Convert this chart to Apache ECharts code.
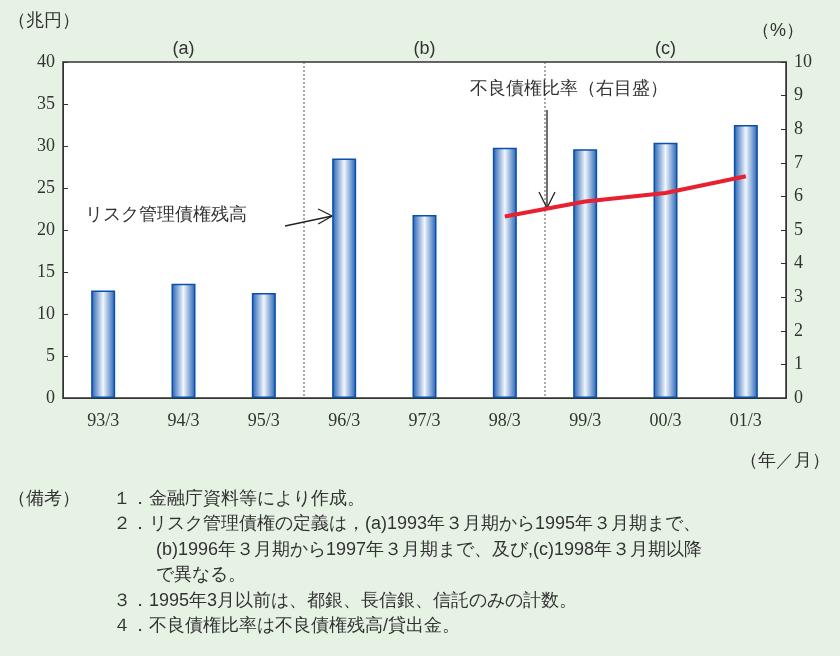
<!DOCTYPE html>
<html>
<head>
<meta charset="utf-8">
<style type="text/css">
body{margin:0;background:#e6f2e4;}
</style>
</head>
<body>
<div style="width:840px;height:656px;" id="chart"></div>
<script src="https://cdn.jsdelivr.net/npm/echarts@6/dist/echarts.min.js"></script>
<script>
const categories = ['93/3', '94/3', '95/3', '96/3', '97/3', '98/3', '99/3', '00/3', '01/3'];
const riskLoans = [12.8, 13.6, 12.5, 28.5, 21.8, 29.8, 29.6, 30.4, 32.5];
const badRatio = [null, null, null, null, null, 5.4, 5.85, 6.1, 6.6];
const periodLabels = ['(a)', '(b)', '(c)'];
const notes = [
    '１．金融庁資料等により作成。',
    '２．リスク管理債権の定義は，(a)1993年３月期から1995年３月期まで、',
    '(b)1996年３月期から1997年３月期まで、及び,(c)1998年３月期以降',
    'で異なる。',
    '３．1995年3月以前は、都銀、長信銀、信託のみの計数。',
    '４．不良債権比率は不良債権残高/貸出金。'
];

const font = '"Liberation Serif", "Noto Sans CJK JP", serif';
let chart = echarts.init(document.getElementById('chart'));

let barColor = new echarts.graphic.LinearGradient(0, 0, 1, 0, [
    {offset: 0, color: '#1d5fb4'},
    {offset: 0.5, color: '#f2f6fc'},
    {offset: 1, color: '#1d5fb4'}
]);

let option = {
    animation: false,
    textStyle: {fontFamily: font},
    grid: {left: 63, right: 54, top: 62, bottom: 258, show: true, backgroundColor: '#fff', borderColor: '#333', borderWidth: 1.5},
    xAxis: {
        type: 'category', data: categories,
        axisTick: {show: false},
        axisLine: {lineStyle: {color: '#333'}},
        axisLabel: {color: '#333', fontSize: 18, margin: 14, fontFamily: font}
    },
    yAxis: [{
        type: 'value', min: 0, max: 40, interval: 5,
        splitLine: {show: false},
        axisLine: {show: true, lineStyle: {color: '#333'}},
        axisTick: {show: true, inside: true, length: 5},
        axisLabel: {color: '#333', fontSize: 18, fontFamily: font}
    }, {
        type: 'value', min: 0, max: 10, interval: 1,
        splitLine: {show: false},
        axisLine: {show: true, lineStyle: {color: '#333'}},
        axisTick: {show: true, inside: true, length: 5},
        axisLabel: {color: '#333', fontSize: 18, fontFamily: font}
    }],
    series: [{
        type: 'bar', data: riskLoans, barWidth: 24,
        itemStyle: {color: barColor, borderColor: '#0b4fa8', borderWidth: 1.5}
    }, {
        type: 'line', yAxisIndex: 1, data: badRatio, symbol: 'none',
        lineStyle: {color: '#e8202f', width: 4}
    }]
};
chart.setOption(option);

let px = i => chart.convertToPixel({xAxisIndex: 0}, i);
let x3 = (px(2) + px(3)) / 2;
let x6 = (px(5) + px(6)) / 2;
let plotTop = 62, plotBottom = 398;
let periodX = [px(1), px(4), px(7)];
let txt = (x, y, t, size, align) => ({type: 'text', x, y, style: {text: t, fontSize: size || 18, fill: '#333', font: (size || 18) + 'px ' + font, textAlign: align || 'left'}});

let arrowX = px(3) - 12;

let graphic = [
    {type: 'line', shape: {x1: x3, y1: plotTop, x2: x3, y2: plotBottom}, style: {stroke: '#555', lineDash: [2, 2], lineWidth: 1}},
    {type: 'line', shape: {x1: x6, y1: plotTop, x2: x6, y2: plotBottom}, style: {stroke: '#555', lineDash: [2, 2], lineWidth: 1}},
    txt(8, 12, '（兆円）'),
    txt(752, 22, '（%）'),
    txt(740, 452, '（年／月）'),
    txt(85, 206, 'リスク管理債権残高'),
    txt(470, 80, '不良債権比率（右目盛）'),
    {type: 'polyline', shape: {points: [[285, 226], [arrowX, 216]]}, style: {stroke: '#222', lineWidth: 1.3, fill: null}},
    {type: 'polyline', shape: {points: [[arrowX - 14, 209], [arrowX, 216], [arrowX - 14, 224]]}, style: {stroke: '#222', lineWidth: 1.3, fill: null}},
    {type: 'line', shape: {x1: 547, y1: 110, x2: 547, y2: 208}, style: {stroke: '#222', lineWidth: 1.3}},
    {type: 'polyline', shape: {points: [[539, 192], [547, 208], [555, 192]]}, style: {stroke: '#222', lineWidth: 1.3, fill: null}},
    txt(8, 490, '（備考）')
];
periodLabels.forEach((p, i) => graphic.push(txt(periodX[i], 40, p, 18, 'center')));
notes.forEach((n, i) => {
    let indent = (i === 2 || i === 3) ? 156 : 113;
    graphic.push(txt(indent, 490 + i * 25.5, n));
});
chart.setOption({graphic});
</script>
</body>
</html>
